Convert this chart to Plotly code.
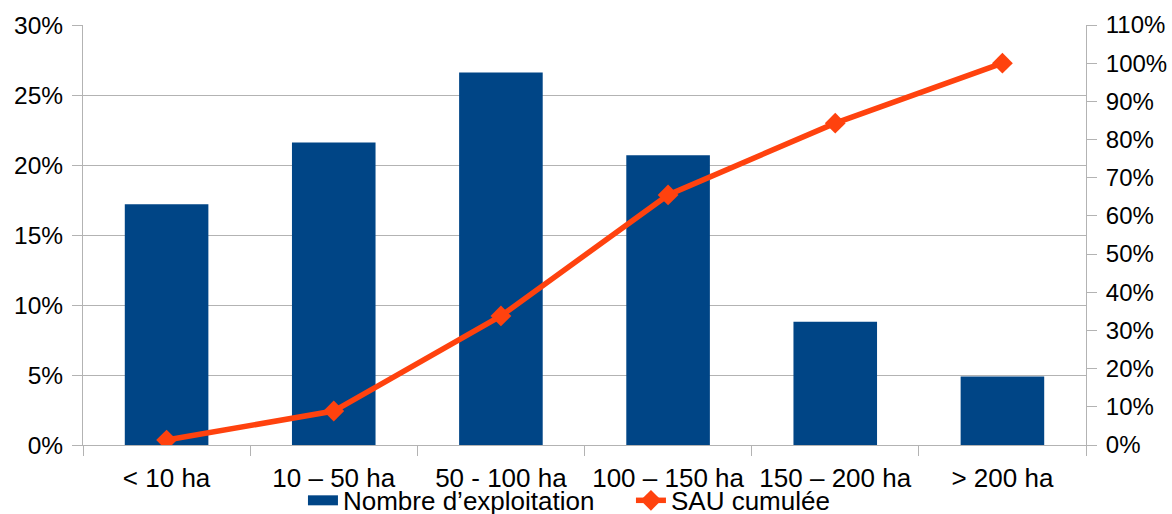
import plotly.graph_objects as go

categories = ["< 10 ha", "10 – 50 ha", "50 - 100 ha", "100 – 150 ha", "150 – 200 ha", "> 200 ha"]
nombre_exploitation = [0.172, 0.216, 0.266, 0.207, 0.088, 0.049]
sau_cumulee = [0.013, 0.089, 0.338, 0.655, 0.843, 1.0]

FONT = "Liberation Sans, Arial, sans-serif"
GRID = "#b3b3b3"
BLUE = "#004586"
ORANGE = "#ff420e"

fig = go.Figure()
fig.add_trace(go.Bar(
    x=categories, y=nombre_exploitation, name="Nombre d’exploitation",
    marker=dict(color=BLUE, line=dict(width=0)), yaxis="y", showlegend=False,
))
# legend entry drawn as a wide rectangle like the reference
fig.add_trace(go.Scatter(
    x=[None], y=[None], name="Nombre d’exploitation", mode="lines",
    line=dict(color=BLUE, width=16), yaxis="y", legendrank=1,
))
fig.add_trace(go.Scatter(
    x=categories, y=sau_cumulee, name="SAU cumulée", mode="lines+markers",
    line=dict(color=ORANGE, width=5.5),
    marker=dict(symbol="diamond", size=16, color=ORANGE),
    yaxis="y2", legendrank=2,
))

fig.update_layout(
    width=1172, height=514,
    margin=dict(l=83, r=86, t=25, b=69, autoexpand=False),
    paper_bgcolor="white", plot_bgcolor="white",
    font=dict(family=FONT, size=24, color="black"),
    bargap=0.5,
    showlegend=True,
    legend=dict(orientation="h", x=0.2193, xanchor="left", y=-0.076, yanchor="top",
                font=dict(size=26), tracegroupgap=0, itemwidth=30, entrywidth=283,
                bgcolor="rgba(0,0,0,0)"),
    xaxis=dict(
        type="category", showgrid=False, showline=True, linecolor=GRID, linewidth=1,
        ticks="outside", tickson="boundaries", ticklen=10, tickcolor=GRID,
        tickfont=dict(size=26), ticklabelstandoff=10,
    ),
    yaxis=dict(
        range=[0, 0.3], dtick=0.05, tickformat=".0%", showgrid=True, gridcolor=GRID,
        showline=True, linecolor=GRID, ticks="outside", ticklen=10, tickcolor=GRID,
        zeroline=False, tickfont=dict(size=24.5), ticklabelstandoff=4,
    ),
    yaxis2=dict(
        range=[0, 1.1], dtick=0.1, tickformat=".0%", overlaying="y", side="right",
        showgrid=False, showline=True, linecolor=GRID, ticks="outside", ticklen=10,
        tickcolor=GRID, zeroline=False, tickfont=dict(size=24), ticklabelstandoff=4,
    ),
)

fig.write_html(
    "out.html",
    config={"displayModeBar": False},
    post_script="document.body.style.margin='0';document.body.style.overflow='hidden';",
)
